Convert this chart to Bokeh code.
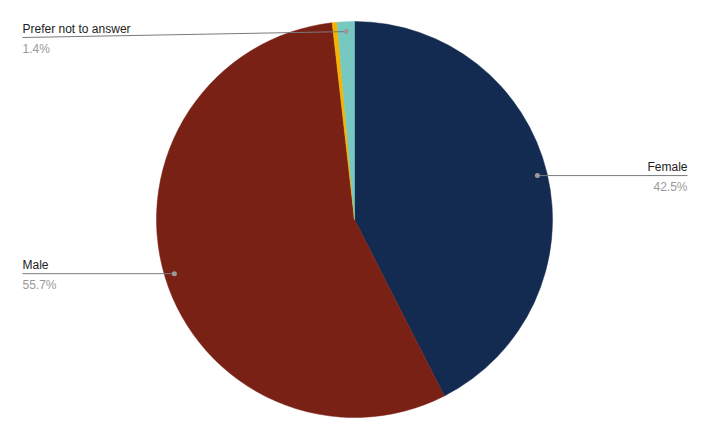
import math
from bokeh.plotting import figure
from bokeh.models import Range1d, ColumnDataSource
from bokeh.core.properties import value
from bokeh.embed import file_html
from bokeh.resources import INLINE

categories = ["Female", "Male", "Other", "Prefer not to answer"]
percents = [42.5, 55.7, 0.4, 1.4]
colors = ["#132b50", "#7a2116", "#f4b400", "#76c8c0"]
show_label = [True, True, False, True]

W, H = 693, 424
# data coords: x = image pixel, y = 440 - image pixel
p = figure(width=W, height=H, x_range=Range1d(0, W), y_range=Range1d(440 - H, 440),
           output_backend="svg", toolbar_location=None, min_border=0)
p.axis.visible = False
p.grid.visible = False
p.outline_line_color = None
p.background_fill_color = "white"

cx, cy, R = 354, 440 - 219, 198
total = sum(percents)
starts, ends = [], []
acc = 0.0
for v in percents:
    a0 = math.pi / 2 - 2 * math.pi * acc / total
    acc += v
    a1 = math.pi / 2 - 2 * math.pi * acc / total
    starts.append(a0)
    ends.append(a1)

src = ColumnDataSource(dict(start=starts, end=ends, color=colors))
p.wedge(x=cx, y=cy, radius=R, start_angle="start", end_angle="end", direction="clock",
        fill_color="color", line_color="color", line_width=0.5, source=src)

font = value("Liberation Sans")
left_x, right_x = 22, 687
for cat, v, a0, a1, show in zip(categories, percents, starts, ends, show_label):
    if not show:
        continue
    mid = (a0 + a1) / 2
    dx = cx + 0.95 * R * math.cos(mid)
    dy = cy + 0.95 * R * math.sin(mid)
    ly = min(dy, 440 - 37)
    if math.cos(mid) >= 0:
        lx, align = right_x, "right"
    else:
        lx, align = left_x, "left"
    p.segment(x0=[lx], y0=[ly], x1=[dx], y1=[dy], line_color="#7a7a7a", line_width=1)
    p.scatter(x=[dx], y=[dy], size=5, marker="circle", fill_color="#9a9a9a", line_color=None)
    p.text(x=[lx], y=[ly + 1.5], text=[cat], text_align=align, text_baseline="bottom",
           text_font=font, text_font_size="12px", text_color="#222222")
    p.text(x=[lx], y=[ly - 4], text=[f"{v:.1f}%"], text_align=align, text_baseline="top",
           text_font=font, text_font_size="12px", text_color="#999999")

open("out.html", "w").write(file_html(p, INLINE))
